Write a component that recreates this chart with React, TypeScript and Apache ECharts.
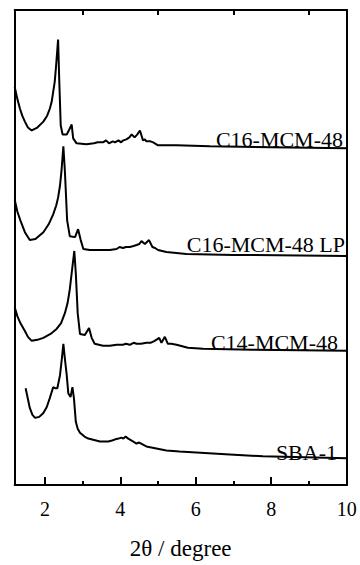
import React, { useEffect, useRef } from "react";
import * as echarts from "echarts";

const FONT = "'Liberation Serif', 'Times New Roman', serif";

const xMajorTicks = [2, 4, 6, 8];
const xMinorTicks = [3, 5, 7, 9];
const xLabels = [2, 4, 6, 8, 10];

const c16: [number, number][] = [
  [1.2, 403], [1.27, 391], [1.34, 381], [1.4, 374], [1.47, 368], [1.55, 362], [1.65, 359],
  [1.8, 362], [1.96, 368], [2.06, 374], [2.13, 381], [2.18, 388],
  [2.22, 398], [2.26, 408], [2.29, 421], [2.33, 441], [2.35, 451], [2.38, 411], [2.42, 364],
  [2.47, 355], [2.58, 355], [2.66, 361], [2.71, 365], [2.75, 351], [2.84, 346],
  [3.1, 345], [3.3, 346], [3.4, 347], [3.54, 347], [3.62, 349], [3.7, 346], [3.8, 348], [3.86, 347],
  [3.95, 349], [4.02, 347], [4.08, 349], [4.16, 350], [4.24, 352], [4.3, 355], [4.38, 352],
  [4.45, 355], [4.52, 359], [4.6, 349], [4.65, 350], [4.69, 348], [4.8, 348], [4.87, 347],
  [5.0, 344], [5.49, 344], [6.37, 343], [8.0, 342], [10, 341],
];

const c16lp: [number, number][] = [
  [1.2, 289], [1.27, 277], [1.35, 268], [1.47, 256], [1.6, 248], [1.75, 249], [1.96, 256],
  [2.1, 264], [2.22, 274], [2.3, 283],
  [2.35, 291], [2.4, 303], [2.44, 318], [2.49, 343], [2.53, 318], [2.59, 268], [2.66, 252],
  [2.8, 251], [2.88, 259], [2.95, 248], [3.02, 239], [3.19, 238], [3.5, 238],
  [3.72, 238], [3.9, 239], [3.98, 241], [4.07, 240], [4.15, 241], [4.25, 241], [4.35, 242],
  [4.43, 243], [4.5, 244], [4.56, 247], [4.65, 244], [4.76, 248], [4.85, 241], [4.92, 240],
  [5.0, 238], [5.22, 236], [5.75, 234], [7.0, 233], [10, 232],
];

const c14: [number, number][] = [
  [1.2, 180], [1.27, 171], [1.35, 164], [1.47, 156], [1.55, 150], [1.65, 146], [1.8, 147],
  [1.96, 149], [2.15, 153], [2.31, 158], [2.43, 164],
  [2.53, 174], [2.6, 184], [2.66, 198], [2.73, 221], [2.78, 237], [2.82, 214], [2.87, 174],
  [2.93, 153], [3.06, 152], [3.17, 159], [3.24, 149], [3.32, 143], [3.54, 141],
  [3.72, 141], [3.9, 142], [4.07, 142], [4.15, 143], [4.25, 142], [4.35, 144], [4.43, 143],
  [4.55, 143], [4.69, 144], [4.8, 144],
  [4.91, 146], [5.03, 149], [5.09, 144], [5.18, 150], [5.26, 143], [5.35, 143], [5.49, 142],
  [5.79, 139], [6.19, 138], [7.5, 137], [10, 136],
];

const sba1: [number, number][] = [
  [1.49, 98], [1.6, 78], [1.67, 71], [1.74, 68], [1.85, 69], [1.96, 73], [2.05, 79], [2.13, 88],
  [2.22, 99], [2.27, 98], [2.33, 98], [2.4, 111], [2.45, 128], [2.49, 143], [2.53, 128],
  [2.58, 111], [2.62, 93], [2.68, 89], [2.73, 99], [2.77, 88], [2.82, 64], [2.87, 57], [2.93, 53],
  [3.05, 49], [3.15, 47],
  [3.46, 44], [3.68, 44], [3.78, 45], [3.85, 46], [3.95, 47], [4.03, 48], [4.08, 47], [4.14, 49],
  [4.21, 47], [4.3, 45],
  [4.43, 42], [4.5, 43], [4.69, 39], [5.22, 35], [5.57, 34], [6.9, 31], [7.78, 29], [10, 27],
];

const seriesNames = ["C16-MCM-48", "C16-MCM-48 LP", "C14-MCM-48", "SBA-1"];
const seriesData = [c16, c16lp, c14, sba1];

export default function App() {
  const ref = useRef<HTMLDivElement>(null);
  useEffect(() => {
    if (!ref.current) return;
    const chart = echarts.init(ref.current, null, { renderer: "svg" });
    const axisLineStyle = { color: "#000", width: 2 };
    const grid = { left: 14.7, right: 13.3, top: 10, bottom: 74 };
    chart.setOption({
      animation: false,
      backgroundColor: "#fff",
      grid,
      xAxis: [
        {
          type: "value",
          min: 1.2,
          max: 10,
          position: "bottom",
          axisLine: { show: true, lineStyle: axisLineStyle },
          axisTick: {
            show: true,
            inside: true,
            length: 8,
            customValues: xMajorTicks,
            lineStyle: { color: "#000", width: 2 },
          },
          axisLabel: {
            show: true,
            customValues: xLabels,
            color: "#000",
            fontFamily: FONT,
            fontSize: 20,
            margin: 14,
            showMaxLabel: true,
          },
          splitLine: { show: false },
          name: "2θ / degree",
          nameLocation: "middle",
          nameGap: 52,
          nameTextStyle: { color: "#000", fontFamily: FONT, fontSize: 23 },
        },
        {
          type: "value",
          min: 1.2,
          max: 10,
          position: "bottom",
          axisLine: { show: false },
          axisTick: {
            show: true,
            inside: true,
            length: 4,
            customValues: xMinorTicks,
            lineStyle: { color: "#000", width: 2 },
          },
          axisLabel: { show: false },
          splitLine: { show: false },
        },
        {
          type: "value",
          min: 1.2,
          max: 10,
          position: "top",
          axisLine: { show: true, lineStyle: axisLineStyle },
          axisTick: {
            show: true,
            inside: true,
            length: 5,
            customValues: xMinorTicks,
            lineStyle: { color: "#000", width: 2 },
          },
          axisLabel: { show: false },
          splitLine: { show: false },
        },
      ],
      yAxis: [
        {
          type: "value",
          min: 0,
          max: 481,
          position: "left",
          axisLine: { show: true, lineStyle: axisLineStyle },
          axisTick: { show: false },
          axisLabel: { show: false },
          splitLine: { show: false },
        },
        {
          type: "value",
          min: 0,
          max: 481,
          position: "right",
          axisLine: { show: true, lineStyle: axisLineStyle },
          axisTick: { show: false },
          axisLabel: { show: false },
          splitLine: { show: false },
        },
      ],
      series: seriesData.map((d, i) => ({
        name: seriesNames[i],
        type: "line",
        xAxisIndex: 0,
        yAxisIndex: 0,
        data: d,
        showSymbol: false,
        symbol: "none",
        smooth: false,
        lineStyle: { color: "#000", width: 2 },
      })),
      graphic: [
        { type: "text", right: 17, top: 128, style: { text: seriesNames[0], font: `22px ${FONT}`, fill: "#000" } },
        { type: "text", right: 15, top: 233, style: { text: seriesNames[1], font: `22px ${FONT}`, fill: "#000" } },
        { type: "text", right: 22, top: 331, style: { text: seriesNames[2], font: `22px ${FONT}`, fill: "#000" } },
        { type: "text", right: 23, top: 441, style: { text: seriesNames[3], font: `22px ${FONT}`, fill: "#000" } },
      ],
    });
    return () => chart.dispose();
  }, []);
  return <div ref={ref} style={{ width: 360, height: 565, position: "absolute", left: 0, top: 0 }} />;
}
